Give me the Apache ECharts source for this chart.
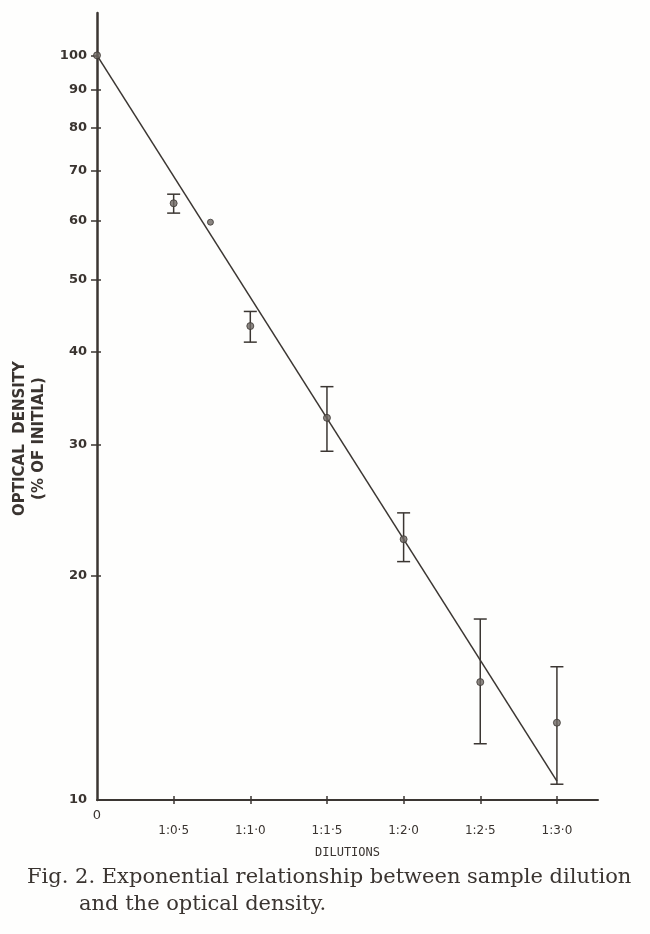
<!DOCTYPE html>
<html>
<head>
<meta charset="utf-8">
<script src="https://cdn.jsdelivr.net/npm/echarts@6/dist/echarts.min.js"></script>
<style>
html,body{margin:0;padding:0;background:#fefefd;}
#chart{width:650px;height:934px;}
</style>
</head>
<body>
<div id="chart"></div>
<script>
// ---- data ----
const tickLabels = ['0', '1:0·5', '1:1·0', '1:1·5', '1:2·0', '1:2·5', '1:3·0'];
const dilutions = [0, 0.5, 1.0, 1.5, 2.0, 2.5, 3.0];
const means  = [100, 63.3, 43.3, 32.6, 22.4, 14.4, 12.7];
const lowers = [null, 61.4, 41.2, 29.4, 20.9, 11.9, 10.5];
const uppers = [null, 65.1, 45.3, 35.9, 24.3, 17.5, 15.1];
const extraX = [0.74];
const extraY = [59.7];
const fitX = [0, 3.0];
const fitY = [100, 10.6];
const yTickValues = [10, 20, 30, 40, 50, 60, 70, 80, 90, 100];

const ink = '#3b3632';
const pointData = dilutions.map((d, i) => [d, means[i]]);
const extraData = extraX.map((d, i) => [d, extraY[i]]);
const fitData = fitX.map((d, i) => [d, fitY[i]]);
const errData = dilutions.map((d, i) => [d, lowers[i], uppers[i]]).filter(r => r[1] != null);

const labelMap = {};
dilutions.forEach((d, i) => { labelMap[d.toFixed(1)] = tickLabels[i]; });

const capStyle = { fontFamily: 'DejaVu Serif', fontWeight: 'normal', fontSize: 21, color: '#3a3430' };

const chart = echarts.init(document.getElementById('chart'));
chart.setOption({
  backgroundColor: '#fefefd',
  animation: false,
  title: [
    { text: 'Fig. 2. Exponential relationship between sample dilution', left: 22, top: 862, textStyle: capStyle },
    { text: 'and the optical density.', left: 74, top: 889, textStyle: capStyle }
  ],
  grid: { left: 97, right: 52, top: 13, bottom: 134, outerBoundsMode: 'none', containLabel: false },
  xAxis: [
    {
      type: 'value', min: 0, max: 3.268, position: 'bottom',
      axisLine: { show: true, lineStyle: { color: ink, width: 2 } },
      splitLine: { show: false },
      axisTick: { show: true, inside: false, length: 4, lineStyle: { color: ink, width: 1.5 }, customValues: [0.5, 1.0, 1.5, 2.0, 2.5, 3.0] },
      axisLabel: {
        customValues: dilutions, margin: 9, color: '#3a3430',
        fontFamily: 'DejaVu Sans', fontSize: 12,
        formatter: v => {
          const t = labelMap[Number(v).toFixed(1)];
          return v === 0 ? '{z|' + t + '}' : '{a|' + t + '}';
        },
        rich: {
          z: { fontFamily: 'DejaVu Sans', fontSize: 13, color: '#3a3430' },
          a: { fontFamily: 'DejaVu Sans', fontSize: 12, color: '#3a3430', padding: [16, 0, 0, 0] }
        }
      },
      name: 'DILUTIONS', nameLocation: 'middle', nameGap: 47,
      nameTextStyle: { fontFamily: 'DejaVu Sans Mono', fontSize: 12, color: '#3a3430' }
    },
    {
      type: 'value', min: 0, max: 3.268, position: 'bottom',
      axisLine: { show: false }, splitLine: { show: false }, axisLabel: { show: false },
      axisTick: { show: true, inside: true, length: 4, lineStyle: { color: ink, width: 1.5 }, customValues: [0.5, 1.0, 1.5, 2.0, 2.5, 3.0] }
    }
  ],
  yAxis: [
    {
      type: 'log', logBase: 10, min: 10, max: 114, position: 'left',
      axisLine: { show: true, lineStyle: { color: ink, width: 2.5 } },
      splitLine: { show: false }, minorTick: { show: false },
      axisTick: { show: true, inside: false, length: 6, lineStyle: { color: ink, width: 1.5 }, customValues: yTickValues.slice(1) },
      axisLabel: { customValues: yTickValues, margin: 10, color: '#3a3430', fontFamily: 'DejaVu Sans', fontWeight: 'bold', fontSize: 13 },
      name: 'OPTICAL  DENSITY\n(% OF INITIAL)', nameLocation: 'middle', nameGap: 38, nameRotate: 90,
      nameTextStyle: { fontFamily: 'DejaVu Sans', fontWeight: 'bold', fontSize: 15, lineHeight: 19, color: '#3a3430', padding: [0, 64, 0, 0] }
    },
    {
      type: 'log', logBase: 10, min: 10, max: 114, position: 'left',
      axisLine: { show: false }, splitLine: { show: false }, axisLabel: { show: false }, minorTick: { show: false },
      axisTick: { show: true, inside: true, length: 4, lineStyle: { color: ink, width: 1.5 }, customValues: yTickValues.slice(1, 9) }
    }
  ],
  series: [
    {
      type: 'line', data: fitData, showSymbol: false, symbol: 'none',
      lineStyle: { color: ink, width: 1.5 }, z: 2
    },
    {
      type: 'custom', data: errData, z: 3,
      renderItem: (params, api) => {
        const x = api.value(0);
        const lo = api.coord([x, api.value(1)]);
        const hi = api.coord([x, api.value(2)]);
        const w = 6.5;
        const st = { stroke: ink, lineWidth: 1.5 };
        return { type: 'group', children: [
          { type: 'line', shape: { x1: lo[0], y1: lo[1], x2: hi[0], y2: hi[1] }, style: st },
          { type: 'line', shape: { x1: lo[0] - w, y1: lo[1], x2: lo[0] + w, y2: lo[1] }, style: st },
          { type: 'line', shape: { x1: hi[0] - w, y1: hi[1], x2: hi[0] + w, y2: hi[1] }, style: st }
        ]};
      }
    },
    {
      type: 'scatter', data: pointData, symbol: 'circle', symbolSize: 7, z: 4,
      itemStyle: { color: '#6e6863', borderColor: ink, borderWidth: 1 }
    },
    {
      type: 'scatter', data: extraData, symbol: 'circle', symbolSize: 6, z: 4,
      itemStyle: { color: '#6e6863', borderColor: ink, borderWidth: 1 }
    }
  ]
});
</script>
</body>
</html>
